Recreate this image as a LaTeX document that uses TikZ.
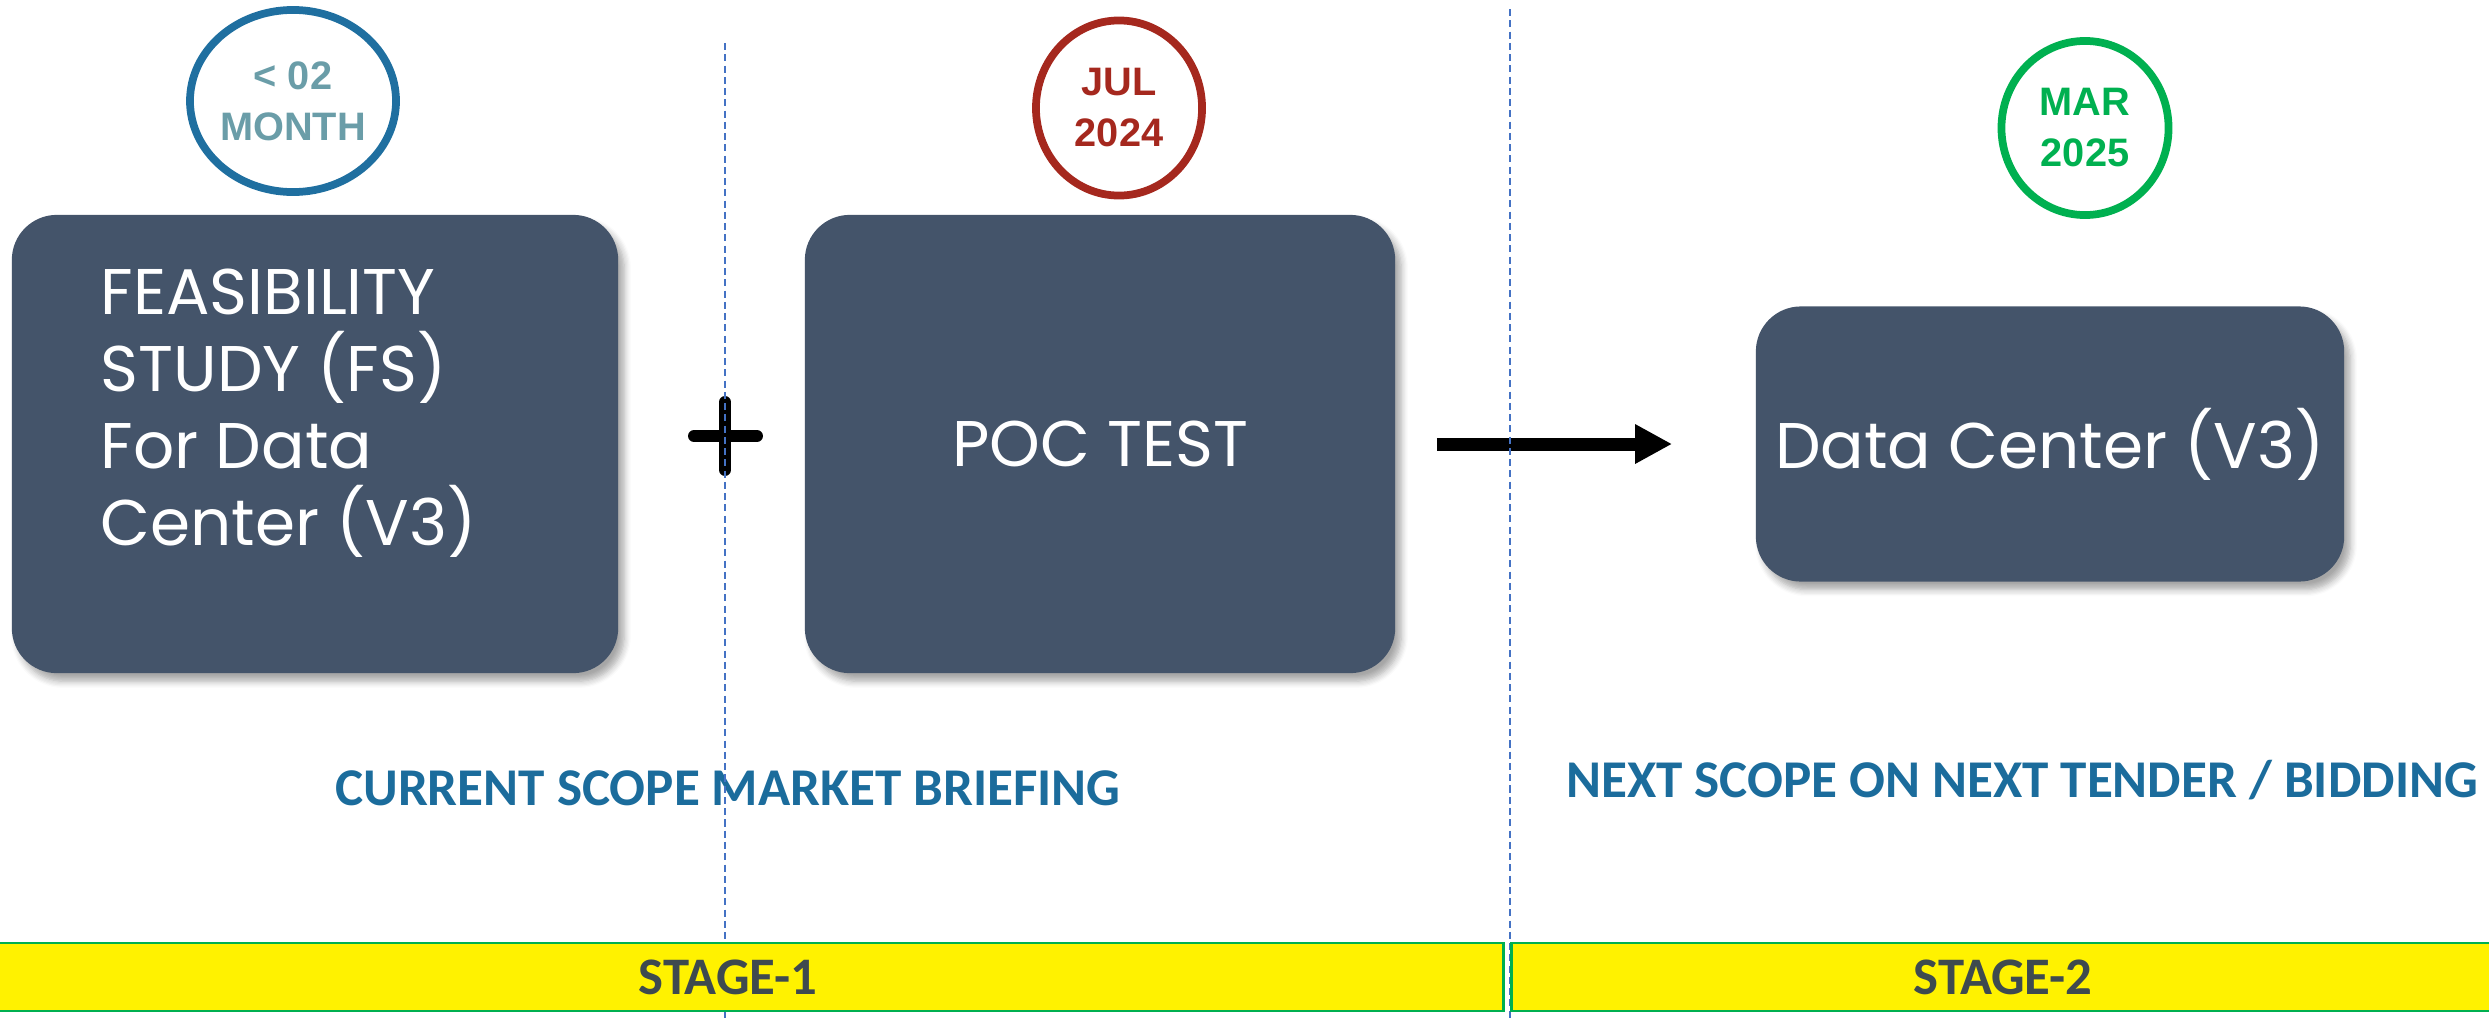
\documentclass[tikz,border=0pt]{standalone}
\usepackage{fontspec}
\setmainfont{Carlito}
\newfontfamily\poppins{Poppins}
\newfontfamily\datefont{Liberation Sans}
\usetikzlibrary{positioning,shapes.geometric,shadows.blur,arrows.meta}
\definecolor{slate}{HTML}{44546A}
\definecolor{ringblue}{HTML}{1F6FA0}
\definecolor{monthteal}{HTML}{6A9DA8}
\definecolor{ringred}{HTML}{A5281E}
\definecolor{ringgreen}{HTML}{00B050}
\definecolor{scopeblue}{HTML}{1B6C9C}
\definecolor{stagegray}{HTML}{3E4A4F}
\definecolor{sepblue}{HTML}{4472C4}

\begin{document}
\begin{tikzpicture}[x=0.01cm,y=-0.01cm,
    phase/.style={fill=slate,rounded corners=0.45cm,inner sep=0pt,text=white,
      blur shadow={shadow xshift=0.6mm,shadow yshift=-0.8mm,shadow blur steps=6,shadow opacity=35}},
    phasetext/.style={text=white,inner sep=0pt,font=\poppins\fontsize{18.35}{21.9}\selectfont},
    datering/.style={ellipse,draw,line width=2.2pt,inner sep=0pt,align=center,
      font=\datefont\bfseries\fontsize{11.3}{14.5}\selectfont},
    scope/.style={text=scopeblue,anchor=base,font=\bfseries\fontsize{15.1}{18}\selectfont},
    stagebar/.style={fill=yellow,draw=ringgreen,line width=0.8pt,minimum height=0.68cm,
      text=stagegray,font=\bfseries\fontsize{15}{18}\selectfont},
    sep/.style={sepblue,line width=0.55pt,dash pattern=on 2pt off 1.2pt}]

  \useasboundingbox (0,0) rectangle (2489,1018);

  % date rings
  \node[datering,draw=ringblue,text=monthteal,minimum width=1.86cm,minimum height=1.82cm] (d1) at (293,101) {< 02\\MONTH};
  \node[datering,draw=ringred,text=ringred,minimum width=1.66cm,minimum height=1.75cm] (d2) at (1119,108) {JUL\\2024};
  \node[datering,draw=ringgreen,text=ringgreen,minimum width=1.67cm,minimum height=1.74cm] (d3) at (2085,128) {MAR\\2025};

  % phases
  \node[phase,minimum width=6.06cm,minimum height=4.58cm] (fs) at (315,444) {};
  \node[phasetext,anchor=north west,align=left] (fstext) at (100,268)
    {FEASIBILITY\\STUDY (FS)\\For Data\\Center (V3)};
  \node[phase,phasetext,minimum width=5.9cm,minimum height=4.58cm] (poc) at (1100,444) {POC TEST};
  \node[phase,phasetext,minimum width=5.88cm,minimum height=2.75cm] (dc) at (2050,444) {Data Center (V3)};

  % plus and arrow
  \draw[line width=3.4pt,line cap=round] (694,436) -- (757,436) (725,402) -- (725,470);
  \draw[line width=3.7pt,-{Triangle[length=0.37cm,width=0.37cm]}] ([xshift=0.41cm]poc.east) -- ([xshift=-0.83cm]dc.west);

  % scopes
  \node[scope] (cur) at (728,805) {CURRENT SCOPE MARKET BRIEFING};
  \node[scope] (nxt) at (2022,797) {NEXT SCOPE ON NEXT TENDER / BIDDING};

  % separators
  \draw[sep] (725,43) -- (725,1018);
  \draw[sep] (1510,9) -- (1510,1018);

  % stages
  \node[stagebar,minimum width=15.5cm] (s1) at (728,977) {STAGE-1};
  \node[stagebar,minimum width=9.82cm] (s2) at (2003,977) {STAGE-2};
\end{tikzpicture}
\end{document}
